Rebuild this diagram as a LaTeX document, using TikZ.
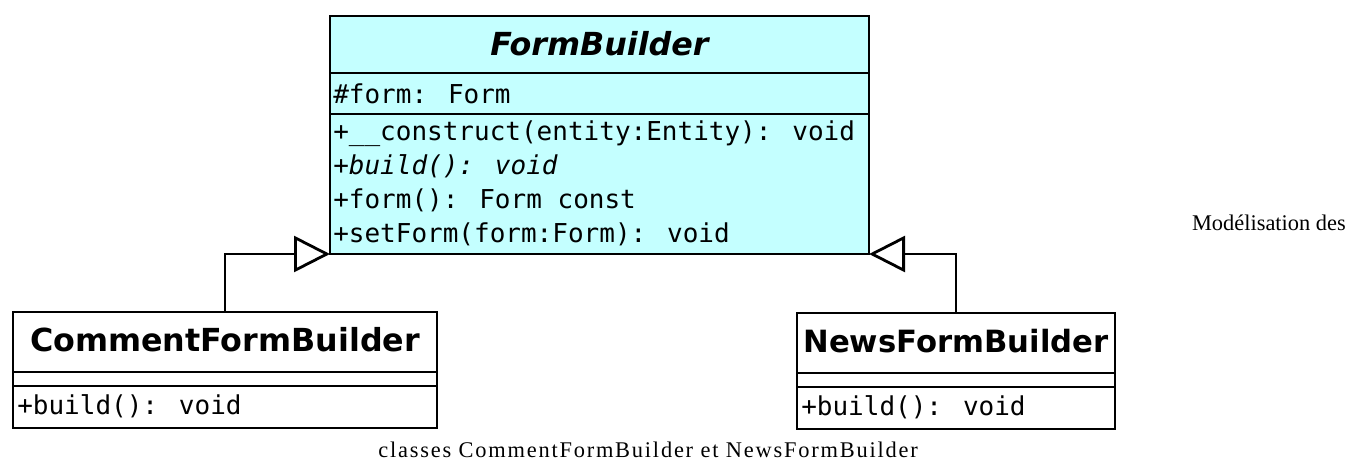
\documentclass[tikz,border=0pt]{standalone}
\usepackage{fontspec}
\setmainfont{Liberation Serif}
\newfontfamily\capspaced[LetterSpace=8]{Liberation Serif}
\newfontfamily\umlsans{DejaVu Sans}
\newfontfamily\umlmono{DejaVu Sans Mono}
\usetikzlibrary{arrows.meta}
\definecolor{umlcyan}{RGB}{196,255,255}
\begin{document}
\begin{tikzpicture}[x=0.75pt,y=-0.75pt,
  umlbox/.style={draw=black, line width=2.1pt, inner sep=0pt, outer sep=0pt},
  divider/.style={draw=black, line width=2.1pt},
  umltitle/.style={font=\umlsans\fontsize{23.8}{28}\selectfont\bfseries, inner sep=0pt, anchor=base},
  umlmember/.style={font=\umlmono\fontsize{19.5}{23}\selectfont, inner sep=0pt, anchor=base west},
  caption/.style={font=\fontsize{16.8}{20}\selectfont, inner sep=0pt, anchor=base},
  gen/.style={draw=black, line width=2.1pt, -{Triangle[open, length=27pt, width=27pt, line width=2.1pt, fill=white]}}
]
\useasboundingbox (0,0) rectangle (1351,461);

% FormBuilder
\node[umlbox, fill=umlcyan, minimum width=404.25pt, minimum height=178.5pt] (fb) at (599.5,135) {};
\draw[divider] (330,73) -- (869,73);
\draw[divider] (330,114) -- (869,114);
\node[umltitle] (fbt) at (599.5,55) {\itshape FormBuilder};
\node[umlmember] (fba) at (333,103) {\#form: Form};
\node[umlmember] (fbm1) at (333,140) {+\_\_construct(entity:Entity): void};
\node[umlmember] (fbm2) at (333,174) {\itshape +build(): void};
\node[umlmember] (fbm3) at (333,208) {+form(): Form const};
\node[umlmember] (fbm4) at (333,242) {+setForm(form:Form): void};

% CommentFormBuilder
\node[umlbox, fill=white, minimum width=318pt, minimum height=87pt] (cfb) at (225,370) {};
\draw[divider] (13,372) -- (437,372);
\draw[divider] (13,386) -- (437,386);
\node[umltitle] (cfbt) at (225,351) {CommentFormBuilder};
\node[umlmember] (cfbm) at (17,414) {+build(): void};

% NewsFormBuilder
\node[umlbox, fill=white, minimum width=238.5pt, minimum height=87pt] (nfb) at (956,371) {};
\draw[divider] (797,373) -- (1115,373);
\draw[divider] (797,387) -- (1115,387);
\node[umltitle, font=\umlsans\fontsize{23}{28}\selectfont\bfseries] (nfbt) at (956,352) {NewsFormBuilder};
\node[umlmember] (nfbm) at (801,415) {+build(): void};

% generalizations
\draw[gen] (cfb.north) |- (fb.south west);
\draw[gen] (nfb.north) |- (fb.south east);

% caption
\node[caption, anchor=base east] (cap1) at (1346,230) {Modélisation des};
\node[caption] (cap2) at (648,457) {\capspaced classes CommentFormBuilder et NewsFormBuilder};
\end{tikzpicture}
\end{document}
